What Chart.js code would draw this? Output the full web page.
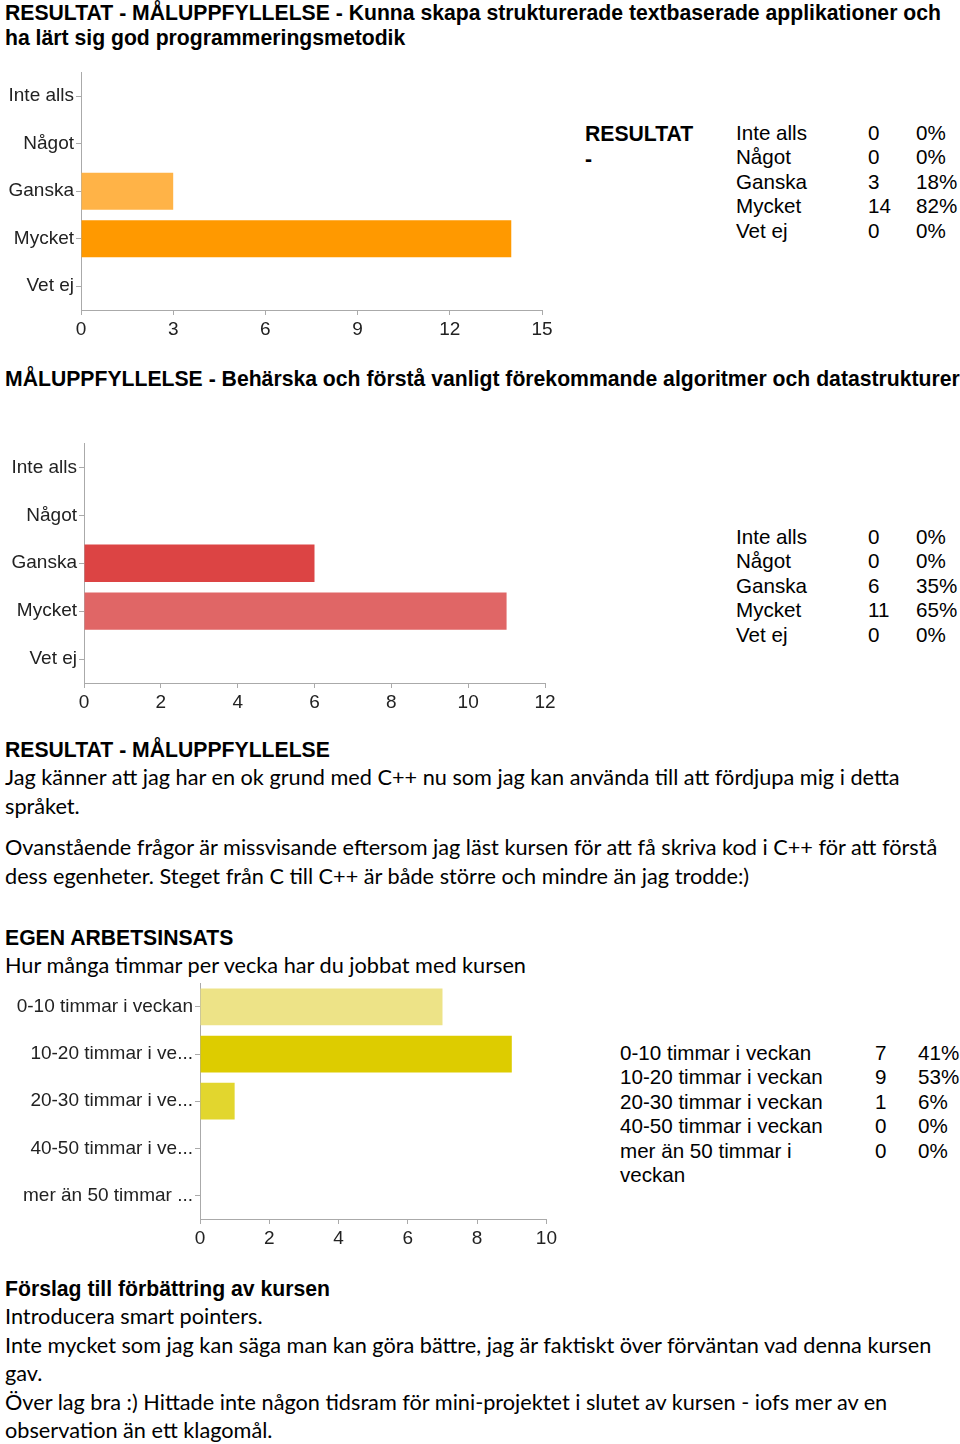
<!DOCTYPE html>
<html>
<head>
<meta charset="utf-8">
<script src="https://cdn.jsdelivr.net/npm/chart.js@4"></script>
<style>
  body { margin: 0; background: #fff; width: 960px; height: 1444px; position: relative; overflow: hidden; }
  .abs { position: absolute; white-space: nowrap; color: #000; }
  .hd { font-family: Arial, "Liberation Sans", sans-serif; font-weight: bold; font-size: 21.2px; line-height: 24px; }
  .title { font-family: Arial, "Liberation Sans", sans-serif; font-weight: bold; font-size: 21.2px; line-height: 25px; }
  .body { font-family: Lato, "Open Sans", sans-serif; font-size: 21.7px; line-height: 28.5px; }
  .chart { position: absolute; left: 0; width: 560px; }
  table.res { position: absolute; border-collapse: collapse; font-family: Arial, "Liberation Sans", sans-serif; font-size: 20.6px; }
  table.res td { padding: 0; line-height: 24.4px; vertical-align: top; }
</style>
</head>
<body>

<div class="abs title" style="left:5px; top:0px;">RESULTAT - MÅLUPPFYLLELSE - Kunna skapa strukturerade textbaserade applikationer och<br>ha lärt sig god programmeringsmetodik</div>

<div class="chart" style="top:59px; height:281px;"><canvas id="c1"></canvas></div>
<div class="abs hd" style="left:585px; top:121px; line-height:25px;">RESULTAT<br>-</div>
<table class="res" id="t1" style="left:736px; top:121px;"></table>

<div class="abs hd" style="left:5px; top:367px;">MÅLUPPFYLLELSE - Behärska och förstå vanligt förekommande algoritmer och datastrukturer</div>

<div class="chart" style="top:430px; height:283px;"><canvas id="c2"></canvas></div>
<table class="res" id="t2" style="left:736px; top:525px;"></table>

<div class="abs hd" style="left:5px; top:738px;">RESULTAT - MÅLUPPFYLLELSE</div>
<div class="abs body" style="left:5px; top:763px;">Jag känner att jag har en ok grund med C++ nu som jag kan använda till att fördjupa mig i detta<br>språket.</div>
<div class="abs body" style="left:5px; top:833px;">Ovanstående frågor är missvisande eftersom jag läst kursen för att få skriva kod i C++ för att förstå<br>dess egenheter. Steget från C till C++ är både större och mindre än jag trodde:)</div>

<div class="abs hd" style="left:5px; top:926px;">EGEN ARBETSINSATS</div>
<div class="abs body" style="left:5px; top:951px;">Hur många timmar per vecka har du jobbat med kursen</div>

<div class="chart" style="top:970px; height:279px;"><canvas id="c3"></canvas></div>
<table class="res" id="t3" style="left:620px; top:1041px;"></table>

<div class="abs hd" style="left:5px; top:1277px;">Förslag till förbättring av kursen</div>
<div class="abs body" style="left:5px; top:1302px;">Introducera smart pointers.<br>Inte mycket som jag kan säga man kan göra bättre, jag är faktiskt över förväntan vad denna kursen<br>gav.<br>Över lag bra :) Hittade inte någon tidsram för mini-projektet i slutet av kursen - iofs mer av en<br>observation än ett klagomål.</div>

<script>
// data
const levelLabels = ['Inte alls', 'Något', 'Ganska', 'Mycket', 'Vet ej'];
const goal1Counts = [0, 0, 3, 14, 0];
const goal1Pct = ['0%', '0%', '18%', '82%', '0%'];
const goal2Counts = [0, 0, 6, 11, 0];
const goal2Pct = ['0%', '0%', '35%', '65%', '0%'];

const hourLabels = ['0-10 timmar i veckan', '10-20 timmar i veckan', '20-30 timmar i veckan', '40-50 timmar i veckan', 'mer än 50 timmar i veckan'];
const hourCounts = [7, 9, 1, 0, 0];
const hourPct = ['41%', '53%', '6%', '0%', '0%'];

const goal1Colors = ['#ffb347', '#ffb347', '#ffb347', '#ff9900', '#ff9900'];
const goal2Colors = ['#dc4444', '#dc4444', '#dc4444', '#e06666', '#e06666'];
const hourColors = ['#ede387', '#ddcc00', '#e2d62e', '#e2d62e', '#e2d62e'];

const tickFont = { family: 'Arial, "Liberation Sans", sans-serif', size: 19 };

const fillTable = (id, labels, counts, pcts, labelWidth, countWidth) => {
    const t = document.getElementById(id);
    labels.forEach((label, i) => {
        const tr = document.createElement('tr');
        tr.innerHTML = `<td style="width:${labelWidth}px"><div style="width:${labelWidth - 30}px;white-space:normal">${label}</div></td>` +
            `<td style="width:${countWidth}px">${counts[i]}</td><td>${pcts[i]}</td>`;
        t.appendChild(tr);
    });
};

fillTable('t1', levelLabels, goal1Counts, goal1Pct, 132, 48);
fillTable('t2', levelLabels, goal2Counts, goal2Pct, 132, 48);
fillTable('t3', hourLabels, hourCounts, hourPct, 255, 43);

const shorten = (label) => label.length > 20 ? label.slice(0, 17) + '...' : label;

const barChart = (id, labels, values, colors, max, step, axisLeft, padTop, padRight) => {
    new Chart(document.getElementById(id), {
        type: 'bar',
        data: {
            labels: labels,
            datasets: [{
                data: values,
                backgroundColor: colors,
                barPercentage: 0.78,
                categoryPercentage: 1
            }]
        },
        options: {
            indexAxis: 'y',
            responsive: true,
            maintainAspectRatio: false,
            animation: false,
            layout: { padding: { top: padTop, right: padRight, left: 0, bottom: 0 } },
            plugins: { legend: { display: false }, tooltip: { enabled: false } },
            scales: {
                x: {
                    min: 0,
                    max: max,
                    afterFit: (s) => { s.height = 30; },
                    border: { color: '#aaa', width: 1 },
                    grid: { drawOnChartArea: false, drawTicks: true, tickLength: 5, color: '#aaa' },
                    ticks: { stepSize: step, color: '#222', font: tickFont, padding: 3 }
                },
                y: {
                    afterFit: (s) => { s.width = axisLeft; },
                    border: { color: '#aaa', width: 1 },
                    grid: { drawOnChartArea: false, drawTicks: true, tickLength: 5, color: '#aaa', offset: false },
                    ticks: {
                        color: '#222', font: tickFont, padding: 2,
                        callback: function (v) { return shorten(this.getLabelForValue(v)); }
                    }
                }
            }
        }
    });
};

barChart('c1', levelLabels, goal1Counts, goal1Colors, 15, 3, 81, 9, 18);
barChart('c2', levelLabels, goal2Counts, goal2Colors, 12, 2, 84, 13, 15);
barChart('c3', hourLabels, hourCounts, hourColors, 10, 2, 200, 9, 10);
</script>
</body>
</html>
